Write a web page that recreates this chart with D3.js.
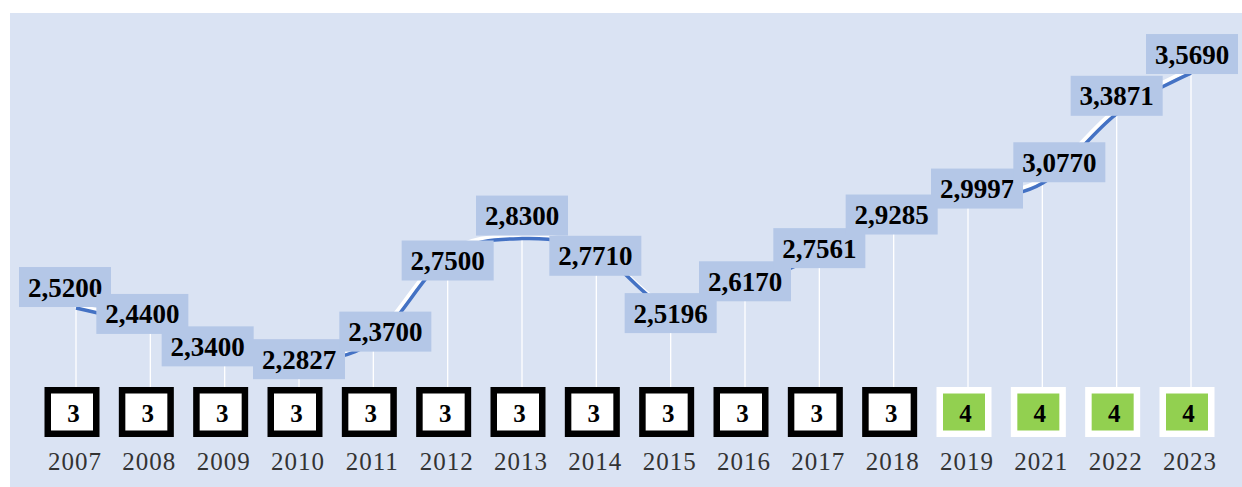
<!DOCTYPE html>
<html>
<head>
<meta charset="utf-8">
<script src="https://cdn.jsdelivr.net/npm/d3@7"></script>
<style>
  body { margin: 0; background: #fff; }
  svg { display: block; }
  text { font-family: "Liberation Serif", "Times New Roman", serif; }
</style>
</head>
<body>
<svg id="chart" width="1242" height="487"></svg>
<script>
const years = ['2007', '2008', '2009', '2010', '2011', '2012', '2013', '2014',
    '2015', '2016', '2017', '2018', '2019', '2021', '2022', '2023'];
const values = [2.52, 2.44, 2.34, 2.2827, 2.37, 2.75, 2.83, 2.771,
    2.5196, 2.617, 2.7561, 2.9285, 2.9997, 3.077, 3.3871, 3.569];
const grades = [3, 3, 3, 3, 3, 3, 3, 3, 3, 3, 3, 3, 4, 4, 4, 4];

// where each value label sits relative to its point (manual placement, like the original)
const labelDx = [-11, -8, -17, 0, 12, 0, 0, -1, 0, 0, 0, -2, 9, 17, 0, 1];
const labelDy = [-21, -12, -2, -2, -10, 4, -23, 4, 5, -5, -7, -2, -12, -21, -18, -19];

const svg = d3.select('#chart');
const fmt = v => d3.format('.4f')(v).replace('.', ',');

svg.append('rect')
    .attr('x', 10).attr('y', 13)
    .attr('width', 1232).attr('height', 474)
    .attr('fill', '#dae3f3');

const x = d3.scalePoint().domain(years).range([76, 1191]);
const y = d3.scaleLinear().domain([2.2, 3.6]).range([379.7, 66.1]);

const data = years.map((yr, i) => ({ year: yr, value: values[i], grade: grades[i], dx: labelDx[i], dy: labelDy[i] }));

// drop lines
svg.append('g').selectAll('line')
    .data(data)
    .join('line')
    .attr('x1', d => x(d.year)).attr('x2', d => x(d.year))
    .attr('y1', d => y(d.value)).attr('y2', 390)
    .attr('stroke', '#ffffff')
    .attr('stroke-width', 1.3);

const line = d3.line()
    .x(d => x(d.year))
    .y(d => y(d.value))
    .curve(d3.curveCardinal.tension(0));

svg.append('path')
    .datum(data)
    .attr('d', line)
    .attr('transform', 'translate(-2,-3)')
    .attr('fill', 'none')
    .attr('stroke', '#ffffff')
    .attr('stroke-width', 4);

svg.append('path')
    .datum(data)
    .attr('d', line)
    .attr('fill', 'none')
    .attr('stroke', '#4472c4')
    .attr('stroke-width', 3.5);

// value labels
const labels = svg.append('g').selectAll('g')
    .data(data)
    .join('g')
    .attr('transform', d => `translate(${x(d.year) + d.dx},${y(d.value) + d.dy})`);

labels.append('rect')
    .attr('x', -46).attr('y', -20)
    .attr('width', 92).attr('height', 40)
    .attr('fill', '#b4c7e7');

labels.append('text')
    .attr('y', 9.5)
    .attr('text-anchor', 'middle')
    .attr('font-size', 27)
    .attr('font-weight', 'bold')
    .attr('fill', '#000')
    .text(d => fmt(d.value));

// grade boxes
const boxes = svg.append('g').selectAll('g')
    .data(data)
    .join('g')
    .attr('transform', d => `translate(${x(d.year) - 4},412)`);

boxes.append('rect')
    .attr('x', -24.25).attr('y', -21.75)
    .attr('width', 48.5).attr('height', 43.5)
    .attr('fill', d => d.grade === 4 ? '#92d050' : '#ffffff')
    .attr('stroke', d => d.grade === 4 ? '#ffffff' : '#000000')
    .attr('stroke-width', 6.5);

boxes.append('text')
    .attr('x', 1.5)
    .attr('y', 9.5)
    .attr('text-anchor', 'middle')
    .attr('font-size', 25)
    .attr('font-weight', 'bold')
    .attr('fill', '#000')
    .text(d => d.grade);

// year labels
svg.append('g').selectAll('text')
    .data(data)
    .join('text')
    .attr('x', d => x(d.year) - 1)
    .attr('y', 470)
    .attr('text-anchor', 'middle')
    .attr('font-size', 25)
    .attr('letter-spacing', 1)
    .attr('fill', '#333333')
    .text(d => d.year);
</script>
</body>
</html>
